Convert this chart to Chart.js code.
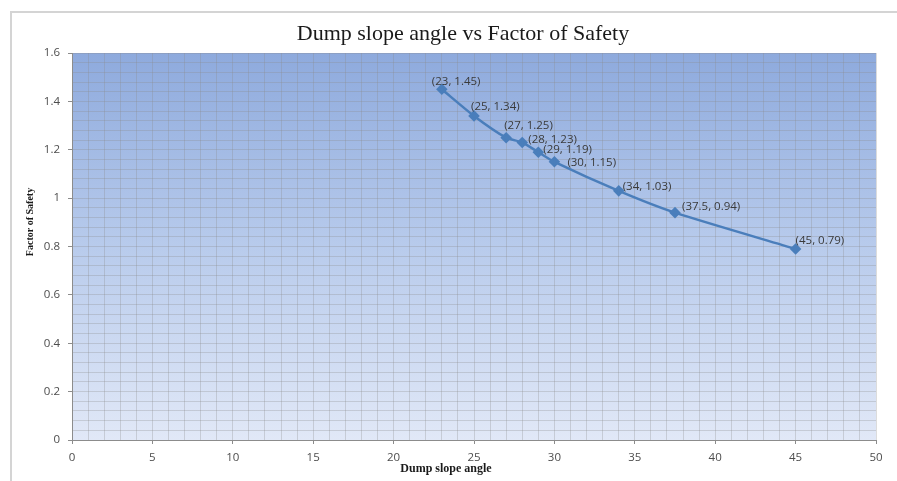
<!DOCTYPE html>
<html>
<head>
<meta charset="utf-8">
<style>
  html, body { margin: 0; padding: 0; background: #ffffff; }
  #wrap { width: 897px; height: 481px; position: relative; }
</style>
<script src="https://cdn.jsdelivr.net/npm/chart.js@4/dist/chart.umd.min.js"></script>
</head>
<body>
<div id="wrap"><canvas id="fosChart" width="897" height="481"></canvas></div>
<script>
// Dump slope angle (deg) vs factor of safety
const angles = [23, 25, 27, 28, 29, 30, 34, 37.5, 45];
const safetyFactors = [1.45, 1.34, 1.25, 1.23, 1.19, 1.15, 1.03, 0.94, 0.79];

// labelled ticks; the grid also has minor lines between them
const xTickLabels = [0, 5, 10, 15, 20, 25, 30, 35, 40, 45, 50];
const yTickLabels = [0, 0.2, 0.4, 0.6, 0.8, 1, 1.2, 1.4, 1.6];

// where each "(x, y)" label sits relative to its point: [dx to text start, dy to text middle]
const labelOffsets = [[-10, -8], [-3, -9], [-2, -12], [6, -3], [5, -2], [13, 1], [4, -4], [7, -6], [0, -8]];

const isLabelled = (list, v) => list.some(t => Math.abs(t - v) < 1e-6);

const frameAndBackground = {
  id: "frameAndBackground",
  beforeDraw(chart) {
    const { ctx, chartArea: a } = chart;
    ctx.save();
    // outer chart frame
    ctx.strokeStyle = "#d4d4d4";
    ctx.lineWidth = 2;
    ctx.strokeRect(11, 12, 900, 500);
    // plot area gradient
    const g = ctx.createLinearGradient(0, a.top, 0, a.bottom);
    g.addColorStop(0, "#8eaadd");
    g.addColorStop(0.5, "#b8cbec");
    g.addColorStop(1, "#e1e8f7");
    ctx.fillStyle = g;
    ctx.fillRect(a.left, a.top, a.right - a.left, a.bottom - a.top);
    ctx.restore();
  },
};

const titlesAndLabels = {
  id: "titlesAndLabels",
  afterDraw(chart) {
    const { ctx } = chart;
    ctx.save();
    ctx.fillStyle = "#1a1a1a";
    ctx.textAlign = "center";
    ctx.textBaseline = "alphabetic";
    ctx.font = "22px 'Liberation Serif', serif";
    ctx.fillText("Dump slope angle vs Factor of Safety", 463, 40);

    ctx.font = "bold 12px 'Liberation Serif', serif";
    ctx.textBaseline = "middle";
    ctx.fillText("Dump slope angle", 446, 469);

    ctx.save();
    ctx.translate(30, 222);
    ctx.rotate(-Math.PI / 2);
    ctx.font = "bold 10px 'Liberation Serif', serif";
    ctx.fillText("Factor of Safety", 0, 0);
    ctx.restore();

    // point value labels
    const meta = chart.getDatasetMeta(0);
    ctx.font = "11.5px 'Open Sans', sans-serif";
    ctx.fillStyle = "#3a3a3a";
    ctx.textAlign = "left";
    meta.data.forEach((pt, i) => {
      const [dx, dy] = labelOffsets[i];
      ctx.fillText("(" + angles[i] + ", " + safetyFactors[i] + ")", pt.x + dx, pt.y + dy);
    });
    ctx.restore();
  },
};

const ctx = document.getElementById("fosChart").getContext("2d");
const fosChart = new Chart(ctx, {
  type: "scatter",
  data: {
    datasets: [
      {
        label: "Factor of Safety",
        data: angles.map((a, i) => ({ x: a, y: safetyFactors[i] })),
        showLine: true,
        borderColor: "#4a7ebb",
        backgroundColor: "#4a7ebb",
        borderWidth: 2.5,
        tension: 0.25,
        pointStyle: "rectRot",
        pointRadius: 4,
        pointHoverRadius: 4,
      },
    ],
  },
  options: {
    responsive: false,
    animation: false,
    layout: { padding: { left: 12, right: 21, top: 53, bottom: 0 } },
    plugins: {
      legend: { display: false },
      tooltip: { enabled: false },
      title: { display: false },
    },
    scales: {
      x: {
        type: "linear",
        min: 0,
        max: 50,
        afterFit(scale) { scale.height = 41; },
        border: { color: "#8c8c8c", width: 1 },
        grid: {
          color: "rgba(140,140,140,0.3)",
          lineWidth: 1,
          tickLength: 4,
          tickColor: c => (c.tick && isLabelled(xTickLabels, c.tick.value) ? "#8c8c8c" : "rgba(0,0,0,0)"),
        },
        ticks: {
          stepSize: 1,
          autoSkip: false,
          maxRotation: 0,
          padding: 7,
          color: "#4d4d4d",
          font: { family: "'Open Sans', sans-serif", size: 11.5 },
          callback: v => (isLabelled(xTickLabels, v) ? String(Math.round(v)) : ""),
        },
      },
      y: {
        type: "linear",
        min: 0,
        max: 1.6,
        afterFit(scale) { scale.width = 60; },
        border: { color: "#8c8c8c", width: 1 },
        grid: {
          color: "rgba(140,140,140,0.3)",
          lineWidth: 1,
          tickLength: 4,
          tickColor: c => (c.tick && isLabelled(yTickLabels, c.tick.value) ? "#8c8c8c" : "rgba(0,0,0,0)"),
        },
        ticks: {
          stepSize: 0.04,
          autoSkip: false,
          padding: 8,
          color: "#4d4d4d",
          font: { family: "'Open Sans', sans-serif", size: 11.5 },
          callback: v => (isLabelled(yTickLabels, v) ? String(Math.round(v * 10) / 10) : ""),
        },
      },
    },
  },
  plugins: [frameAndBackground, titlesAndLabels],
});
</script>
</body>
</html>
